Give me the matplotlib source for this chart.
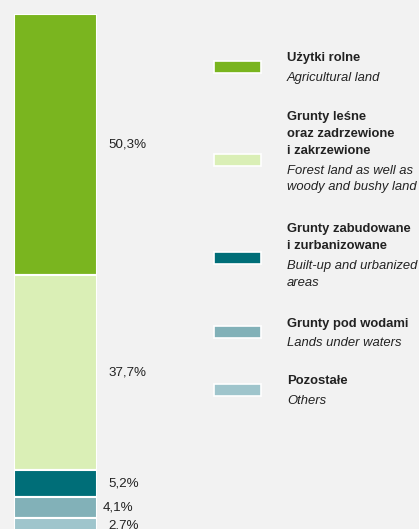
import matplotlib
matplotlib.use("Agg")
import matplotlib.pyplot as plt
from matplotlib.patches import Rectangle

# land use structure (%)
shares = [50.3, 37.7, 5.2, 4.1, 2.7]
labels_pct = ["50,3%", "37,7%", "5,2%", "4,1%", "2,7%"]
names_pl = [["Użytki rolne"],
            ["Grunty leśne", "oraz zadrzewione", "i zakrzewione"],
            ["Grunty zabudowane", "i zurbanizowane"],
            ["Grunty pod wodami"],
            ["Pozostałe"]]
names_en = [["Agricultural land"],
            ["Forest land as well as", "woody and bushy land"],
            ["Built-up and urbanized", "areas"],
            ["Lands under waters"],
            ["Others"]]
colors = ["#7ab51f", "#daefb6", "#006e78", "#82b1b8", "#9fc5cc"]

plt.rcParams['font.family'] = ['Liberation Sans', 'DejaVu Sans']
BG = "#f2f2f2"
TXT = "#222222"
W, H = 419, 529

fig = plt.figure(figsize=(W / 100, H / 100), dpi=100, facecolor=BG)

# stacked bar, top segment first (bar runs a little past the bottom edge)
ax = fig.add_axes([14 / W, -3 / H, 83 / W, 518 / H])
ax.set_facecolor(BG)
bottom = 0
for v, c, lab in zip(shares, colors, labels_pct):
    ax.bar(0, v, bottom=bottom, width=1, color=c, edgecolor="white", linewidth=1.5)
    dx = 6 if lab == "4,1%" else 11
    ax.annotate(lab, xy=(0.5, bottom + v / 2), xytext=(dx * 0.72, 0),
                textcoords="offset points", va="center", ha="left",
                fontsize=9.6, color=TXT, annotation_clip=False)
    bottom += v
ax.set_xlim(-0.5, 0.5)
ax.set_ylim(100, 0)
ax.axis("off")

# legend drawn by hand
patch_y = [67, 160, 258, 332, 390]
first_line = [58, 117, 229, 324, 381]
for py, y0, c, pl, en in zip(patch_y, first_line, colors, names_pl, names_en):
    fig.patches.append(Rectangle((214 / W, 1 - (py + 6) / H), 47 / W, 12 / H,
                                 transform=fig.transFigure, facecolor=c,
                                 edgecolor="white", linewidth=1.2))
    y = y0
    for line in pl:
        fig.text(287 / W, 1 - y / H, line, fontsize=9.4, fontweight="bold",
                 va="center", ha="left", color=TXT)
        y += 17
    y += 2.5
    for line in en:
        fig.text(287 / W, 1 - y / H, line, fontsize=9.4, style="italic",
                 va="center", ha="left", color=TXT)
        y += 17

fig.savefig("out.png", dpi=100, facecolor=BG)
